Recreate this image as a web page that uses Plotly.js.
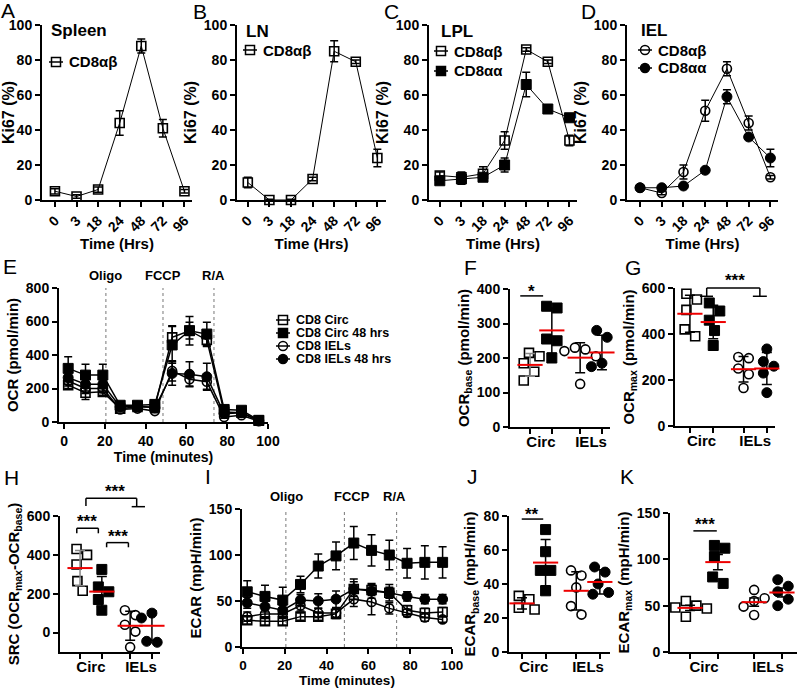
<!DOCTYPE html>
<html><head><meta charset="utf-8">
<script src="https://cdn.plot.ly/plotly-3.0.1.min.js"></script>
<style>body{margin:0;background:#fff}#chart{width:799px;height:688px}</style>
</head><body><div id="chart"></div>
<script>
// ---------------- data ----------------
const hrsLabels = ['0','3','18','24','48','72','96'];
const spleenAB = [5,2,6,44,88,41,5];
const spleenABErr = [1.5,1,1.5,7,4,5,1];
const lnAB = [10,0,0,12,85,79,24];
const lnABErr = [3,0.5,0.5,1,6,1,5];
const lplAB = [14,13,15,34,86,79,34];
const lplABErr = [2,3,4,5,1,1,3];
const lplAA = [11,12,13,20,66,52,47];
const lplAAErr = [2,3,2,4,7,2,2];
const ielAB = [7,4,16,51,75,44,13];
const ielABErr = [1,1,4,6,4,4,1];
const ielAA = [7,7,8,17,59,36,24];
const ielAAErr = [1,1,1,1,4,1,5];

const seahorseTime = [2,10.5,19,27.5,36,44.5,53,61.5,70,78.5,87,95.5];
const injections = ['Oligo','FCCP','R/A'];
const injectionTime = [20.5,48.5,73.5];
const seriesNames = ['CD8 Circ','CD8 Circ 48 hrs','CD8 IELs','CD8 IELs 48 hrs'];

const ocrCirc     = [220,175,180,80,90,90,505,545,490,60,55,8];
const ocrCircErr  = [20,40,20,10,10,10,70,50,40,10,8,3];
const ocrCirc48   = [320,280,280,100,100,105,460,545,525,75,70,10];
const ocrCirc48Err= [70,65,65,15,15,15,110,85,70,15,12,3];
const ocrIEL      = [245,200,200,75,80,65,305,255,240,30,40,5];
const ocrIELErr   = [30,30,25,10,10,10,60,40,45,8,8,2];
const ocrIEL48    = [265,225,225,90,95,85,290,285,270,50,55,8];
const ocrIEL48Err = [40,40,40,10,10,10,70,75,80,10,10,2];

const ecarCirc     = [29,28,28,33,33,36,63,62,59,40,37,38];
const ecarCircErr  = [4,4,4,4,4,5,8,6,6,5,5,5];
const ecarCirc48   = [60,55,51,68,88,99,113,105,100,91,92,92];
const ecarCirc48Err= [12,12,14,9,13,15,18,17,16,16,18,17];
const ecarIEL      = [33,36,36,45,37,37,52,49,42,37,32,30];
const ecarIELErr   = [5,5,5,6,5,5,8,14,6,4,4,3];
const ecarIEL48    = [48,44,40,51,50,52,63,61,59,55,52,52];
const ecarIEL48Err = [6,6,5,6,8,9,11,8,9,5,5,5];

const groupLabels = ['Circ','IELs'];
const ocrBaseCirc = [215,205,185,160,135];
const ocrBaseCirc48 = [350,345,255,250,200];
const ocrBaseIEL = [230,225,220,205,125];
const ocrBaseIEL48 = [280,260,185,180,175];

const ocrMaxCirc = [575,550,505,420,390];
const ocrMaxCirc48 = [535,500,460,415,350];
const ocrMaxIEL = [300,295,250,225,165];
const ocrMaxIEL48 = [335,280,260,230,145];

const srcCirc = [430,400,350,265,215];
const srcCirc48 = [325,235,210,170,115];
const srcIEL = [115,90,40,5,-75];
const srcIEL48 = [100,95,75,-45,-50];

const ecarBaseCirc = [33,31,28,26,25];
const ecarBaseCirc48 = [72,59,48,48,36];
const ecarBaseIEL = [48,45,38,27,22];
const ecarBaseIEL48 = [50,47,40,35,34];

const ecarMaxCirc = [55,50,48,47,38];
const ecarMaxCirc48 = [115,112,103,81,74];
const ecarMaxIEL = [67,58,55,49,40];
const ecarMaxIEL48 = [78,71,65,57,50];

// ---------------- helpers ----------------
const W = 799, H = 688;
const FONT = '"Liberation Sans", Arial, Helvetica, sans-serif';
const px = x => x / W, py = y => 1 - y / H;
const fnt = (size, weight) => ({family: FONT, size: size, color: '#000', weight: weight || 'bold'});
const xr = n => n === 1 ? 'x' : 'x' + n;
const yr = n => n === 1 ? 'y' : 'y' + n;
const xa = n => n === 1 ? 'xaxis' : 'xaxis' + n;
const ya = n => n === 1 ? 'yaxis' : 'yaxis' + n;

const layout = {
  width: W, height: H, margin: {l: 0, r: 0, t: 0, b: 0},
  paper_bgcolor: '#fff', plot_bgcolor: 'rgba(0,0,0,0)', showlegend: false,
  font: fnt(14), shapes: [], annotations: []
};
const traces = [];

function mkAxes(p, xopt, yopt) {
  const common = {showline: true, linewidth: 2, linecolor: '#000', ticks: 'outside', ticklen: 5, tickwidth: 2,
    tickcolor: '#000', showgrid: false, zeroline: false, fixedrange: true, tickfont: fnt(14)};
  layout[xa(p.n)] = Object.assign({}, common, {domain: [px(p.x[0]), px(p.x[1])], anchor: yr(p.n), range: p.xr}, xopt);
  layout[ya(p.n)] = Object.assign({}, common, {domain: [py(p.y[1]), py(p.y[0])], anchor: xr(p.n), range: p.yr}, yopt);
}

const P = {
  A: {n: 1, x: [42, 192], y: [25, 200], xr: [-0.6, 6.35], yr: [0, 100]},
  B: {n: 2, x: [237, 386], y: [25, 200], xr: [-0.5, 6.4], yr: [0, 100]},
  C: {n: 3, x: [429, 577], y: [25, 200], xr: [-0.5, 6.35], yr: [0, 100]},
  D: {n: 4, x: [627, 778], y: [25, 200], xr: [-0.6, 6.35], yr: [0, 100]},
  E: {n: 5, x: [59, 268], y: [288, 422], xr: [-2.5, 100], yr: [0, 800]},
  F: {n: 6, x: [510, 610], y: [289, 427], xr: [0.08, 4.67], yr: [0, 400]},
  G: {n: 7, x: [675, 775], y: [288, 426], xr: [0.36, 4.65], yr: [0, 600]},
  H: {n: 8, x: [60, 160], y: [516, 652], xr: [0.08, 4.67], yr: [-100, 600]},
  I: {n: 9, x: [242, 452], y: [509, 647], xr: [-0.5, 100], yr: [0, 150]},
  J: {n: 10, x: [509, 610], y: [516, 652], xr: [0.45, 4.73], yr: [0, 80]},
  K: {n: 11, x: [670, 797], y: [513, 652], xr: [0.28, 4.84], yr: [0, 150]}
};

const SYM = ['square-open', 'square', 'circle-open', 'circle'];
function mk(sym) {
  const open = sym.indexOf('open') >= 0;
  return {symbol: sym, size: open ? 9 : 10, color: '#000', line: {color: '#000', width: open ? 1.6 : 1}};
}
function lineTrace(p, x, y, err, sym, name, lw) {
  traces.push({type: 'scatter', mode: 'lines+markers', name: name, x: x, y: y, xaxis: xr(p.n), yaxis: yr(p.n),
    line: {color: '#000', width: lw || 1}, marker: mk(sym), cliponaxis: false,
    error_y: {type: 'data', array: err, color: '#000', thickness: 1.5, width: 4}});
}
function yDom(p, v) { return (v - p.yr[0]) / (p.yr[1] - p.yr[0]); }
function letter(t, x, y) {
  layout.annotations.push({xref: 'paper', yref: 'paper', x: px(x), y: py(y), xanchor: 'left', yanchor: 'middle',
    text: t, showarrow: false, font: fnt(21, 'normal'), borderpad: 0});
}
function label(t, x, y, size) {
  layout.annotations.push({xref: 'paper', yref: 'paper', x: px(x), y: py(y), xanchor: 'left', yanchor: 'middle',
    text: t, showarrow: false, font: fnt(size || 17)});
}
function legendItem(x, y, sym, text, size) {
  layout.shapes.push({type: 'line', xref: 'paper', yref: 'paper', x0: px(x - 7), x1: px(x + 7), y0: py(y), y1: py(y),
    line: {color: '#000', width: 1.5}});
  const h = 4.5, open = sym.indexOf('open') >= 0;
  layout.shapes.push({type: sym.indexOf('square') === 0 ? 'rect' : 'circle', xref: 'paper', yref: 'paper',
    x0: px(x - h), x1: px(x + h), y0: py(y + h), y1: py(y - h), line: {color: '#000', width: 1.5},
    fillcolor: open ? 'rgba(0,0,0,0)' : '#000'});
  layout.annotations.push({xref: 'paper', yref: 'paper', x: px(x + 12), y: py(y), xanchor: 'left', yanchor: 'middle',
    text: text, showarrow: false, font: fnt(size || 15), borderpad: 0});
}

// ---------------- row 1 : Ki67 ----------------
const idx = hrsLabels.map((_, i) => i);
[P.A, P.B, P.C, P.D].forEach(p => {
  mkAxes(p, {tickvals: idx, ticktext: hrsLabels, tickangle: -45,
      title: {text: 'Time (Hrs)', font: fnt(15), standoff: 2}},
    {tickvals: [0, 20, 40, 60, 80, 100], title: {text: 'Ki67 (%)', font: fnt(16), standoff: 3}});
});
lineTrace(P.A, idx, spleenAB, spleenABErr, 'square-open', 'CD8αβ');
lineTrace(P.B, idx, lnAB, lnABErr, 'square-open', 'CD8αβ');
lineTrace(P.C, idx, lplAB, lplABErr, 'square-open', 'CD8αβ');
lineTrace(P.C, idx, lplAA, lplAAErr, 'square', 'CD8αα');
lineTrace(P.D, idx, ielAB, ielABErr, 'circle-open', 'CD8αβ');
lineTrace(P.D, idx, ielAA, ielAAErr, 'circle', 'CD8αα');
label('Spleen', 49, 31); label('LN', 244, 32); label('LPL', 439, 32); label('IEL', 639, 31);
legendItem(56, 62, 'square-open', 'CD8αβ');
legendItem(250, 50, 'square-open', 'CD8αβ');
legendItem(441, 51, 'square-open', 'CD8αβ');
legendItem(441, 71, 'square', 'CD8αα');
legendItem(645, 50, 'circle-open', 'CD8αβ');
legendItem(645, 68, 'circle', 'CD8αα');

// ---------------- E and I : time courses ----------------
function timePanel(p, title, series, errs, tickvals, lblX, tfs) {
  mkAxes(p, {tickvals: [0, 20, 40, 60, 80, 100], tickfont: fnt(tfs),
      title: {text: 'Time (minutes)', font: fnt(tfs), standoff: 3}},
    {tickvals: tickvals, title: {text: title, font: fnt(15), standoff: 4}});
  series.forEach((s, i) => lineTrace(p, seahorseTime, s, errs[i], SYM[i], seriesNames[i], 1.5));
  injectionTime.forEach((t, i) => {
    layout.shapes.push({type: 'line', xref: xr(p.n), yref: yr(p.n) + ' domain', x0: t, x1: t, y0: 0, y1: 1,
      line: {color: '#777', width: 1, dash: 'dot'}, layer: 'below'});
    layout.annotations.push({xref: xr(p.n), yref: yr(p.n) + ' domain', x: lblX[i], y: 1.09, text: injections[i],
      showarrow: false, xanchor: 'center', yanchor: 'middle', font: fnt(13)});
  });
}
timePanel(P.E, 'OCR (pmol/min)', [ocrCirc, ocrCirc48, ocrIEL, ocrIEL48],
  [ocrCircErr, ocrCirc48Err, ocrIELErr, ocrIEL48Err], [0, 200, 400, 600, 800], [20.5, 48.5, 73.5], 14);
timePanel(P.I, 'ECAR (mpH/min)', [ecarCirc, ecarCirc48, ecarIEL, ecarIEL48],
  [ecarCircErr, ecarCirc48Err, ecarIELErr, ecarIEL48Err], [0, 50, 100, 150], [21, 52, 72.5], 13.5);
seriesNames.forEach((s, i) => legendItem(283, 320 + i * 13, SYM[i], s, 12.5));

// ---------------- dot plots ----------------
const GPOS = [1, 2, 3.3, 4.3];
const mean = a => a.reduce((s, v) => s + v, 0) / a.length;
const sd = a => { const m = mean(a); return Math.sqrt(a.reduce((s, v) => s + (v - m) * (v - m), 0) / (a.length - 1)); };
function swarm(vals, xs, ys, d) {
  const placed = [], offs = new Array(vals.length).fill(0);
  const order = vals.map((v, i) => i).sort((a, b) => vals[b] - vals[a]);
  order.forEach(i => {
    const yp = vals[i] * ys;
    const cands = [0];
    for (let k = 1; k <= 8; k++) cands.push(k * d * 0.5, -k * d * 0.5);
    for (const c of cands) {
      if (placed.every(q => Math.hypot(q.x - c, q.y - yp) >= d)) { placed.push({x: c, y: yp, i: i}); offs[i] = c; break; }
    }
  });
  const sorted = placed.slice().sort((a, b) => a.y - b.y);
  let cl = [];
  const flush = () => { if (cl.length > 1) { const m = mean(cl.map(q => q.x)); cl.forEach(q => offs[q.i] = q.x - m); } cl = []; };
  sorted.forEach(q => { if (cl.length && q.y - cl[cl.length - 1].y >= d) flush(); cl.push(q); });
  flush();
  return offs.map(o => o / xs);
}
function dotPanel(p, title, groups, yticks, useSEM, grayFirst) {
  mkAxes(p, {tickvals: [1.5, 3.8], ticktext: groupLabels, ticks: '', tickfont: fnt(15),
      minor: {tickvals: GPOS, ticks: 'outside', ticklen: 5, tickwidth: 2, tickcolor: '#000'}},
    {tickvals: yticks, title: {text: title, font: fnt(15), standoff: 4}});
  const xs = (p.x[1] - p.x[0]) / (p.xr[1] - p.xr[0]);
  const ys = (p.y[1] - p.y[0]) / (p.yr[1] - p.yr[0]);
  groups.forEach((vals, g) => {
    const offs = swarm(vals, xs, ys, 10.5);
    traces.push({type: 'scatter', mode: 'markers', x: vals.map((v, i) => GPOS[g] + offs[i]), y: vals,
      xaxis: xr(p.n), yaxis: yr(p.n), marker: mk(SYM[g]), cliponaxis: false});
    const e = useSEM ? sd(vals) / Math.sqrt(vals.length) : sd(vals);
    traces.push({type: 'scatter', mode: 'markers', x: [GPOS[g]], y: [mean(vals)], xaxis: xr(p.n), yaxis: yr(p.n),
      cliponaxis: false,
      marker: {symbol: 'line-ew-open', size: 18, color: '#e00', line: {color: '#e00', width: 2}},
      error_y: {type: 'data', array: [e], color: (grayFirst && g === 0) ? '#888' : '#000', thickness: 1.5, width: 5}});
  });
}
function bracketLine(p, x0, x1, y0, y1) {
  layout.shapes.push({type: 'line', xref: xr(p.n), yref: yr(p.n) + ' domain', x0: x0, x1: x1,
    y0: yDom(p, y0), y1: yDom(p, y1), line: {color: '#000', width: 1.5}});
}
function stars(p, t, x, y) {
  layout.annotations.push({xref: xr(p.n), yref: yr(p.n) + ' domain', x: x, y: yDom(p, y), text: t, showarrow: false,
    xanchor: 'center', yanchor: 'middle', font: fnt(17)});
}

dotPanel(P.F, 'OCR<sub>base</sub> (pmol/min)', [ocrBaseCirc, ocrBaseCirc48, ocrBaseIEL, ocrBaseIEL48], [0, 100, 200, 300, 400], false, true);
bracketLine(P.F, 0.55, 1.6, 380, 380); stars(P.F, '*', 1.07, 392);

dotPanel(P.G, 'OCR<sub>max</sub> (pmol/min)', [ocrMaxCirc, ocrMaxCirc48, ocrMaxIEL, ocrMaxIEL48], [0, 200, 400, 600], false, false);
bracketLine(P.G, 1.72, 4.0, 600, 600); bracketLine(P.G, 1.72, 1.72, 600, 564); bracketLine(P.G, 4.0, 4.0, 600, 564);
bracketLine(P.G, 1.43, 1.99, 564, 564); bracketLine(P.G, 3.7, 4.3, 564, 564);
stars(P.G, '***', 2.93, 632);

dotPanel(P.H, 'SRC (OCR<sub>max</sub>-OCR<sub>base</sub>)', [srcCirc, srcCirc48, srcIEL, srcIEL48], [0, 200, 400, 600], false, true);
bracketLine(P.H, 0.85, 1.84, 537, 537); bracketLine(P.H, 0.85, 0.85, 537, 511); bracketLine(P.H, 1.84, 1.84, 537, 511);
stars(P.H, '***', 1.34, 570);
bracketLine(P.H, 2.22, 3.22, 463, 463); bracketLine(P.H, 2.22, 2.22, 463, 439); bracketLine(P.H, 3.22, 3.22, 463, 439);
stars(P.H, '***', 2.76, 496);
bracketLine(P.H, 1.27, 3.6, 691, 691); bracketLine(P.H, 1.27, 1.27, 691, 652); bracketLine(P.H, 3.6, 3.6, 691, 648);
bracketLine(P.H, 3.37, 3.98, 648, 648);
stars(P.H, '***', 2.6, 724);

dotPanel(P.J, 'ECAR<sub>base</sub> (mpH/min)', [ecarBaseCirc, ecarBaseCirc48, ecarBaseIEL, ecarBaseIEL48], [0, 20, 40, 60, 80], false, false);
bracketLine(P.J, 0.99, 1.9, 78.2, 78.2); stars(P.J, '**', 1.41, 81);

dotPanel(P.K, 'ECAR<sub>max</sub> (mpH/min)', [ecarMaxCirc, ecarMaxCirc48, ecarMaxIEL, ecarMaxIEL48], [0, 50, 100, 150], true, false);
bracketLine(P.K, 1.12, 1.96, 130.7, 130.7); stars(P.K, '***', 1.54, 138);

// panel letters
[['A', 0, 10], ['B', 192, 11], ['C', 383, 11], ['D', 580, 11], ['E', 2, 266], ['F', 463, 267], ['G', 624, 267],
 ['H', 3, 477], ['I', 204, 476], ['J', 466, 476], ['K', 619, 476]].forEach(a => letter(a[0], a[1], a[2]));

Plotly.newPlot('chart', traces, layout, {staticPlot: true, displayModeBar: false});
</script></body></html>
